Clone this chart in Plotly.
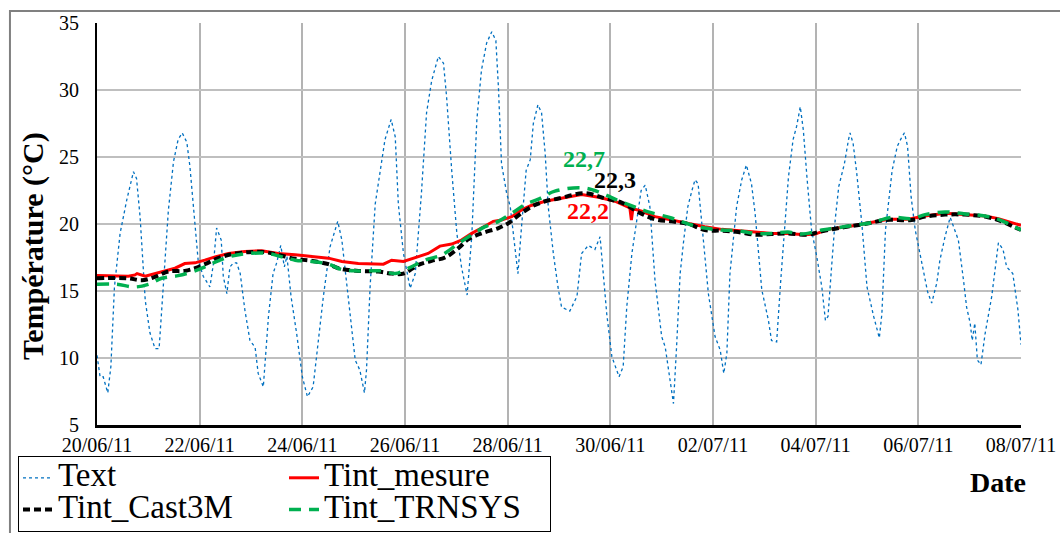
import pandas as pd
import plotly.graph_objects as go

start = pd.Timestamp("2011-06-20")

# Outdoor temperature (days since 20/06/11, °C)
text_days = [0.0, 0.06, 0.12, 0.21, 0.27, 0.34, 0.45, 0.58, 0.71, 0.77, 0.84, 0.94, 1.03, 1.13, 1.21,
             1.32, 1.39, 1.49, 1.58, 1.66, 1.75, 1.81, 1.88, 1.97, 2.07, 2.2, 2.27, 2.33, 2.42, 2.46,
             2.53, 2.59, 2.66, 2.72, 2.79, 2.88, 2.98, 3.08, 3.14, 3.24, 3.34, 3.43, 3.5, 3.58, 3.65,
             3.7, 3.78, 3.89, 4.0, 4.1, 4.21, 4.31, 4.41, 4.54, 4.69, 4.77, 4.9, 5.03, 5.12, 5.21,
             5.25, 5.32, 5.42, 5.51, 5.61, 5.73, 5.81, 5.87, 5.97, 6.1, 6.2, 6.32, 6.42, 6.52, 6.65,
             6.75, 6.81, 6.91, 7.01, 7.1, 7.21, 7.3, 7.4, 7.49, 7.59, 7.69, 7.77, 7.82, 7.88, 7.98,
             8.05, 8.11, 8.2, 8.27, 8.36, 8.44, 8.5, 8.59, 8.66, 8.73, 8.79, 8.89, 8.98, 9.05, 9.21,
             9.35, 9.44, 9.57, 9.7, 9.8, 9.83, 9.93, 10.03, 10.17, 10.25, 10.32, 10.42, 10.51, 10.6,
             10.68, 10.77, 10.87, 11.0, 11.07, 11.23, 11.29, 11.36, 11.43, 11.51, 11.59, 11.65, 11.71,
             11.78, 11.91, 12.04, 12.14, 12.21, 12.27, 12.33, 12.46, 12.56, 12.65, 12.75, 12.82, 12.95,
             13.08, 13.14, 13.24, 13.32, 13.39, 13.47, 13.56, 13.63, 13.7, 13.76, 13.83, 13.92, 14.02,
             14.12, 14.19, 14.24, 14.31, 14.38, 14.45, 14.56, 14.64, 14.67, 14.73, 14.8, 14.9, 15.0,
             15.13, 15.24, 15.29, 15.36, 15.49, 15.59, 15.68, 15.73, 15.79, 15.86, 15.94, 16.03, 16.1,
             16.18, 16.26, 16.36, 16.42, 16.52, 16.62, 16.68, 16.78, 16.88, 16.94, 17.01, 17.05, 17.1,
             17.15, 17.22, 17.3, 17.43, 17.56, 17.65, 17.72, 17.84, 17.94, 18.0]
text_vals = [10.2, 8.6, 8.6, 7.4, 9.35, 15.3, 19.3, 21.8, 23.9, 23.4, 20.5, 14.3, 11.9, 10.7, 10.7,
             17.3, 21.0, 24.65, 26.3, 26.8, 26.1, 24.3, 21.3, 17.3, 16.1, 15.3, 17.1, 19.7, 18.8, 16.1,
             14.8, 16.8, 17.1, 17.1, 16.3, 13.6, 11.3, 10.8, 8.85, 7.85, 13.1, 16.3, 17.1, 18.4, 16.8,
             17.6, 14.6, 11.8, 8.6, 7.1, 7.85, 11.1, 14.6, 18.3, 20.2, 18.8, 14.1, 9.85, 9.1, 7.4,
             9.1, 15.3, 21.5, 23.8, 26.3, 27.8, 26.5, 21.5, 17.8, 15.2, 16.3, 22.3, 28.3, 30.7, 32.5,
             32.0, 29.5, 24.0, 19.3, 16.8, 14.7, 19.05, 27.8, 31.5, 33.5, 34.35, 33.7, 30.2, 24.5, 22.3,
             21.3, 19.3, 16.3, 19.8, 24.0, 24.8, 27.5, 28.9, 28.3, 25.3, 21.3, 17.8, 15.3, 13.8, 13.5,
             14.6, 17.8, 18.4, 18.1, 19.05, 17.8, 13.3, 10.1, 8.6, 9.35, 13.8, 17.8, 20.3, 22.5,
             22.9, 21.3, 15.8, 11.6, 10.8, 6.6, 10.8, 16.3, 18.8, 21.3, 22.5, 23.3, 23.0,
             20.3, 14.8, 11.6, 10.6, 8.85, 10.35, 16.3, 21.3, 23.3, 24.4, 23.0, 20.8, 15.1,
             12.8, 11.3, 11.2, 15.8, 19.55, 23.5, 26.3, 27.3, 28.75, 27.0, 23.5, 19.55, 17.6,
             15.3, 12.8, 13.1, 16.8, 20.3, 22.8, 24.5, 26.3, 26.8, 26.0, 23.8, 20.0, 15.3,
             13.1, 11.5, 13.3, 19.55, 24.0, 25.8, 26.5, 26.8, 25.8, 22.0, 19.55, 17.8, 16.3,
             14.95, 14.1, 15.6, 17.3, 19.05, 20.5, 19.8, 18.8, 15.8, 13.8, 12.6, 11.3, 12.6,
             9.85, 9.5, 11.8, 14.6, 18.6, 18.1, 16.8, 16.3, 13.6, 11.0]

# Measured indoor temperature
mes_days = [0.0, 0.61, 0.74, 0.78, 0.94, 1.26, 1.52, 1.71, 1.91, 2.1, 2.3, 2.56, 2.88, 3.21, 3.53,
            3.86, 4.18, 4.51, 4.77, 5.09, 5.58, 5.74, 5.97, 6.2, 6.45, 6.68, 6.91, 7.1, 7.3, 7.49,
            7.72, 7.88, 8.08, 8.27, 8.47, 8.73, 8.99, 9.44, 9.77, 10.09, 10.38, 10.41, 10.44, 10.61,
            10.87, 11.19, 11.52, 11.84, 12.17, 12.49, 12.82, 13.14, 13.46, 13.79, 13.99, 14.24, 14.7,
            15.09, 15.42, 15.8, 16.13, 16.52, 16.91, 17.3, 17.56, 17.82, 18.0]
mes_vals = [16.15, 16.1, 16.2, 16.3, 16.1, 16.45, 16.7, 17.05, 17.1, 17.3, 17.55, 17.8, 17.95, 18.0,
            17.8, 17.7, 17.6, 17.45, 17.2, 17.05, 17.0, 17.3, 17.2, 17.5, 17.8, 18.35, 18.5, 18.8,
            19.3, 19.7, 20.2, 20.3, 20.55, 21.05, 21.4, 21.7, 21.9, 22.2, 22.0, 21.7, 21.2, 20.3,
            21.15, 20.95, 20.55, 20.3, 20.0, 19.8, 19.6, 19.5, 19.35, 19.3, 19.3, 19.2, 19.25, 19.6,
            19.85, 20.1, 20.35, 20.35, 20.6, 20.8, 20.7, 20.6, 20.4, 20.1, 19.9]

# Cast3M simulation
cast_days = [0.0, 0.61, 0.87, 1.13, 1.39, 1.71, 1.91, 2.1, 2.36, 2.62, 2.95, 3.27, 3.53, 3.86, 4.18,
             4.51, 4.7, 5.09, 5.48, 5.74, 5.97, 6.26, 6.52, 6.78, 7.04, 7.23, 7.49, 7.82, 8.01, 8.21,
             8.47, 8.73, 8.99, 9.5, 9.9, 10.22, 10.54, 10.87, 11.19, 11.52, 11.84, 12.17, 12.49, 12.82,
             13.14, 13.46, 13.85, 14.05, 14.38, 14.7, 15.03, 15.36, 15.87, 16.13, 16.52, 16.91, 17.3,
             17.62, 17.88, 18.0]
cast_vals = [15.95, 15.95, 15.8, 16.05, 16.45, 16.5, 16.7, 17.0, 17.45, 17.75, 17.9, 17.9, 17.7, 17.4,
             17.25, 17.0, 16.7, 16.5, 16.45, 16.3, 16.3, 16.95, 17.25, 17.5, 18.2, 18.85, 19.3, 19.7,
             20.05, 20.65, 21.3, 21.7, 21.9, 22.3, 21.9, 21.6, 20.9, 20.35, 20.2, 20.0, 19.55, 19.5,
             19.4, 19.2, 19.25, 19.3, 19.2, 19.4, 19.65, 19.85, 20.05, 20.3, 20.3, 20.55, 20.7, 20.7,
             20.55, 20.2, 19.75, 19.55]

# TRNSYS simulation
trn_days = [0.0, 0.38, 0.74, 1.0, 1.26, 1.58, 1.91, 2.1, 2.36, 2.62, 2.95, 3.34, 3.6, 3.86, 4.18,
            4.51, 4.77, 5.09, 5.54, 5.81, 6.07, 6.39, 6.72, 7.04, 7.3, 7.56, 7.82, 8.08, 8.34, 8.6,
            8.92, 9.44, 9.77, 10.09, 10.42, 10.74, 11.19, 11.52, 11.84, 12.17, 12.49, 12.82, 13.14,
            13.46, 13.73, 14.12, 14.38, 14.83, 15.09, 15.48, 15.87, 16.13, 16.52, 16.91, 17.3, 17.56,
            17.82, 18.0]
trn_vals = [15.5, 15.5, 15.3, 15.5, 15.95, 16.15, 16.5, 16.8, 17.25, 17.6, 17.8, 17.8, 17.55, 17.3,
            17.2, 17.0, 16.6, 16.5, 16.5, 16.3, 16.7, 17.3, 17.7, 18.55, 19.2, 19.8, 20.2, 20.8, 21.45,
            21.85, 22.45, 22.7, 22.4, 21.85, 21.35, 20.9, 20.45, 20.0, 19.7, 19.55, 19.5, 19.3, 19.3,
            19.4, 19.25, 19.55, 19.7, 19.95, 20.1, 20.5, 20.4, 20.7, 20.9, 20.75, 20.6, 20.35, 19.9,
            19.55]

series_names = ["Text", "Tint_mesure", "Tint_Cast3M", "Tint_TRNSYS"]

peak_labels = ["22,7", "22,3", "22,2"]
peak_days = [9.49, 10.09, 9.57]
peak_vals = [24.85, 23.28, 20.97]
peak_colors = ["#00B050", "#000000", "#FF0000"]

x_ticks_days = [0, 2, 4, 6, 8, 10, 12, 14, 16, 18]


def to_dates(days):
    return start + pd.to_timedelta(pd.Series(days), unit="D")


FONT = "Liberation Serif"


def leg_name(s):
    return '<span style="font-size:33px">' + s + '</span>'


fig = go.Figure()
fig.add_trace(go.Scatter(x=to_dates(text_days), y=text_vals, mode="lines", name=leg_name(series_names[0]),
                         legendgroup="a",
                         line=dict(color="#0070C0", width=1.3, dash="dot")))
fig.add_trace(go.Scatter(x=to_dates(mes_days), y=mes_vals, mode="lines", name=leg_name(series_names[1]),
                         legendgroup="b",
                         line=dict(color="#FF0000", width=3)))
fig.add_trace(go.Scatter(x=to_dates(cast_days), y=cast_vals, mode="lines", name=leg_name(series_names[2]),
                         legendgroup="a",
                         line=dict(color="#000000", width=4, dash="7px,4px", shape="spline")))
fig.add_trace(go.Scatter(x=to_dates(trn_days), y=trn_vals, mode="lines", name=leg_name(series_names[3]),
                         legendgroup="b",
                         line=dict(color="#00B050", width=3.5, dash="12px,8px", shape="spline")))

for lab, d, v, c in zip(peak_labels, peak_days, peak_vals, peak_colors):
    fig.add_annotation(x=start + pd.Timedelta(days=d), y=v, text="<b>" + lab + "</b>",
                       xanchor="center", yanchor="middle",
                       showarrow=False, font=dict(family=FONT, size=24, color=c))

fig.add_annotation(xref="paper", yref="paper", x=-0.0693, y=0.445, text="<b>Température (°C)</b>",
                   xanchor="center", yanchor="middle",
                   textangle=-90, showarrow=False, font=dict(family=FONT, size=30, color="black"))
fig.add_annotation(xref="paper", yref="paper", x=0.975, y=-0.144, text="<b>Date</b>",
                   xanchor="center", yanchor="middle",
                   showarrow=False, font=dict(family=FONT, size=28, color="black"))

# outer chart frame
fig.add_shape(type="rect", xref="paper", yref="paper", x0=-0.0942, x1=1.05, y0=-0.3, y1=1.03,
              line=dict(color="#808080", width=2), layer="below")

fig.update_layout(
    width=1060, height=533, autosize=False,
    margin=dict(l=97, r=39, t=23, b=108, autoexpand=False),
    paper_bgcolor="white", plot_bgcolor="white",
    font=dict(family=FONT, size=20, color="black"),
    legend=dict(orientation="h", x=-0.0855, xanchor="left", y=-0.0771, yanchor="top",
                bordercolor="black", borderwidth=1, bgcolor="white", traceorder="grouped",
                entrywidth=221, font=dict(family=FONT, size=22, color="black")),
)
fig.update_xaxes(range=[start, start + pd.Timedelta(days=18)], tickvals=to_dates(x_ticks_days),
                 tickformat="%d/%m/%y", showgrid=True, gridcolor="#b3b3b3", gridwidth=1.5,
                 showline=True, linecolor="black", linewidth=3, ticks="", zeroline=False,
                 tickfont=dict(family=FONT, size=20, color="black"))
fig.update_yaxes(range=[5, 35], dtick=5, showgrid=True, gridcolor="#bfbfbf", gridwidth=1.5,
                 showline=True, linecolor="black", linewidth=2, ticks="", zeroline=False,
                 ticklabelstandoff=12, tickfont=dict(family=FONT, size=20, color="black"))

fig.write_html("out.html", config={"displayModeBar": False},
               post_script="document.body.style.margin='0px';")
